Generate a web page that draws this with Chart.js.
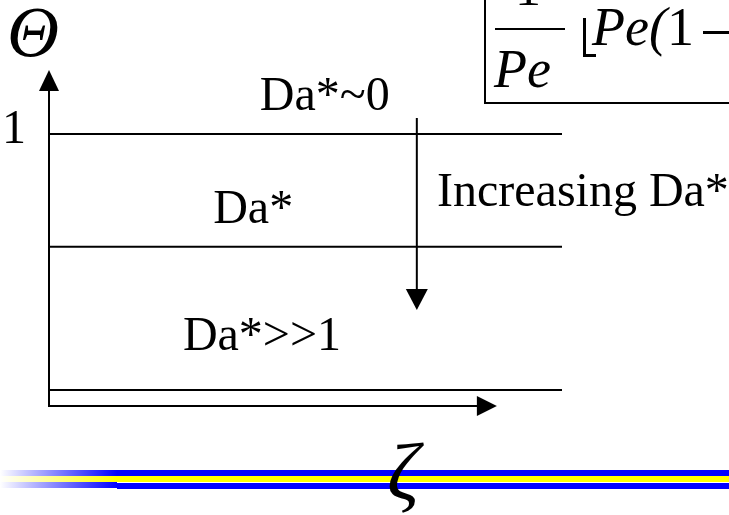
<!DOCTYPE html>
<html>
<head>
<meta charset="utf-8">
<script src="https://cdn.jsdelivr.net/npm/chart.js@4/dist/chart.umd.min.js"></script>
<style>
  html, body { margin: 0; padding: 0; background: #fff; }
  #wrap { width: 729px; height: 515px; position: relative; }
</style>
</head>
<body>
<div id="wrap"><canvas id="profile" width="729" height="515"></canvas></div>
<script>
// profile levels for the three reaction regimes
const levelNames = ['Da*~0', 'Da*', 'Da*>>1'];
const levelValues = [1, 0.56, 0];
const zetaRange = [0, 1];
const yTickLabels = ['1'];
const yTickValues = [1];

const SERIF = '"Liberation Serif", "DejaVu Serif", serif';

function arrowHead(ctx, tipX, tipY, dir, len, half) {
  ctx.beginPath();
  if (dir === 'up') {
    ctx.moveTo(tipX, tipY); ctx.lineTo(tipX - half, tipY + len); ctx.lineTo(tipX + half, tipY + len);
  } else if (dir === 'down') {
    ctx.moveTo(tipX, tipY); ctx.lineTo(tipX - half, tipY - len); ctx.lineTo(tipX + half, tipY - len);
  } else {
    ctx.moveTo(tipX, tipY); ctx.lineTo(tipX - len, tipY - half); ctx.lineTo(tipX - len, tipY + half);
  }
  ctx.closePath();
  ctx.fill();
}

const sketchPlugin = {
  id: 'sketch',
  afterDraw(chart) {
    const ctx = chart.ctx;
    const xs = chart.scales.x, ys = chart.scales.y;
    const area = chart.chartArea;
    const x0 = xs.getPixelForValue(0);
    ctx.save();
    ctx.strokeStyle = '#000';
    ctx.fillStyle = '#000';
    ctx.lineWidth = 2;

    // axes with arrow heads
    ctx.beginPath();
    ctx.moveTo(x0, area.bottom + 1);
    ctx.lineTo(x0, area.top + 18);
    ctx.stroke();
    arrowHead(ctx, x0, area.top, 'up', 21, 10);

    const xTip = xs.getPixelForValue(0.873);
    ctx.beginPath();
    ctx.moveTo(x0 - 1, area.bottom);
    ctx.lineTo(xTip - 18, area.bottom);
    ctx.stroke();
    arrowHead(ctx, xTip, area.bottom, 'right', 20, 10);

    // "increasing" arrow
    const ax = xs.getPixelForValue(0.717);
    const aTop = ys.getPixelForValue(1.0625);
    const aTip = ys.getPixelForValue(0.3125);
    ctx.beginPath();
    ctx.moveTo(ax, aTop);
    ctx.lineTo(ax, aTip - 18);
    ctx.stroke();
    arrowHead(ctx, ax, aTip, 'down', 21, 11);

    // text
    ctx.textBaseline = 'alphabetic';
    ctx.textAlign = 'left';
    ctx.font = '48px ' + SERIF;
    yTickLabels.forEach((t, i) => {
      ctx.fillText(t, 2, ys.getPixelForValue(yTickValues[i]) + 9);
    });
    const labelX = [0.411, 0.320, 0.261];
    const labelDy = [24, 24, 40];
    levelNames.forEach((t, i) => {
      ctx.fillText(t, xs.getPixelForValue(labelX[i]), ys.getPixelForValue(levelValues[i]) - labelDy[i]);
    });
    ctx.fillText('Increasing Da*', 437, 206);

    ctx.font = 'italic 72px ' + SERIF;
    ctx.fillText('\u0398', 7, 56);

    // boxed formula (clipped at the page edge)
    ctx.strokeRect(485, -20, 300, 123);
    ctx.fillRect(495, 28, 70, 2);
    ctx.font = '52px ' + SERIF;
    ctx.fillText('1', 515, 5);
    ctx.font = 'italic 54px ' + SERIF;
    ctx.fillText('Pe', 494, 87);
    // lower half of the big bracket
    ctx.fillRect(583, 18, 3, 39);
    ctx.fillRect(583, 54, 13, 3);
    ctx.fillText('Pe(', 592, 45);
    ctx.font = '54px ' + SERIF;
    ctx.fillText('1', 667, 45);
    ctx.fillRect(703, 31, 30, 3);

    // title bar at the foot of the slide
    const W = chart.width;
    const bands = [[470, 6, '#0000ff'], [476, 6, '#ffff00'], [482, 6, '#0000ff']];
    bands.forEach(([y, h, c]) => {
      const g = ctx.createLinearGradient(0, 0, 117, 0);
      g.addColorStop(0, '#ffffff');
      g.addColorStop(1, c);
      ctx.fillStyle = g;
      ctx.fillRect(0, y, 117, h);
      ctx.fillStyle = c;
      ctx.fillRect(117, y + (c === '#0000ff' && y > 480 ? 1 : 0), W - 117, h);
    });

    // zeta drawn over the bar
    ctx.fillStyle = '#000';
    ctx.font = 'italic 80px ' + SERIF;
    ctx.fillText('\u03B6', 387, 499);
    ctx.restore();
  }
};

const datasets = levelValues.map((v, i) => ({
  label: levelNames[i],
  data: zetaRange.map(z => ({ x: z, y: v })),
  showLine: true,
  borderColor: '#000',
  borderWidth: 2,
  pointRadius: 0,
  fill: false
}));

new Chart(document.getElementById('profile'), {
  type: 'scatter',
  data: { datasets: datasets },
  options: {
    responsive: false,
    animation: false,
    layout: { padding: { left: 49, right: 167, top: 70, bottom: 109 } },
    plugins: { legend: { display: false }, tooltip: { enabled: false } },
    scales: {
      x: { type: 'linear', display: false, min: 0, max: 1 },
      y: { type: 'linear', display: false, min: -0.0625, max: 1.25 }
    }
  },
  plugins: [sketchPlugin]
});
</script>
</body>
</html>
